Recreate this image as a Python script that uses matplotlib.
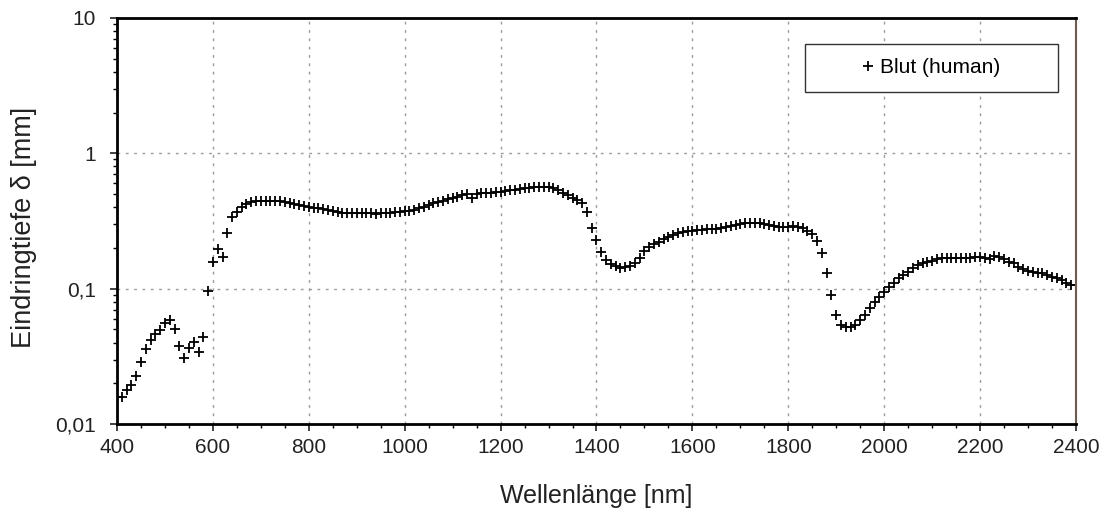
import matplotlib
matplotlib.use("Agg")
import matplotlib.pyplot as plt
from matplotlib.patches import Rectangle
from matplotlib.ticker import FixedLocator, FuncFormatter, LogLocator, MultipleLocator, NullFormatter
import numpy as np

plt.rcParams["font.family"] = ["Liberation Sans", "DejaVu Sans"]

# wavelength grid, 10 nm steps
wavelength = list(range(400, 2401, 10))

# penetration depth in mm (one row per 100 nm)
depth = [
    0.0159, 0.0158, 0.0178, 0.0194, 0.0226, 0.0289, 0.0358, 0.0418, 0.0463, 0.0495,  # 400
    0.0555, 0.0587, 0.0501, 0.0379, 0.0306, 0.0362, 0.0406, 0.0342, 0.0442, 0.0967,  # 500
    0.158, 0.195, 0.172, 0.256, 0.340, 0.371, 0.404, 0.420, 0.435, 0.445,  # 600
    0.447, 0.447, 0.447, 0.443, 0.441, 0.434, 0.430, 0.420, 0.416, 0.409,  # 700
    0.404, 0.397, 0.393, 0.386, 0.382, 0.375, 0.371, 0.365, 0.362, 0.362,  # 800
    0.361, 0.360, 0.360, 0.360, 0.359, 0.360, 0.362, 0.365, 0.368, 0.371,  # 900
    0.375, 0.378, 0.382, 0.393, 0.404, 0.416, 0.428, 0.437, 0.447, 0.456,  # 1000
    0.466, 0.478, 0.493, 0.501, 0.466, 0.501, 0.510, 0.513, 0.513, 0.515,  # 1100
    0.520, 0.530, 0.537, 0.540, 0.545, 0.550, 0.556, 0.561, 0.565, 0.565,  # 1200
    0.561, 0.553, 0.537, 0.513, 0.493, 0.471, 0.452, 0.428, 0.371, 0.279,  # 1300
    0.229, 0.188, 0.163, 0.152, 0.146, 0.143, 0.144, 0.148, 0.156, 0.170,  # 1400
    0.190, 0.204, 0.213, 0.222, 0.231, 0.242, 0.251, 0.259, 0.264, 0.267,  # 1500
    0.268, 0.270, 0.272, 0.274, 0.276, 0.278, 0.282, 0.287, 0.291, 0.296,  # 1600
    0.301, 0.304, 0.307, 0.307, 0.304, 0.301, 0.296, 0.291, 0.287, 0.287,  # 1700
    0.287, 0.291, 0.287, 0.279, 0.268, 0.255, 0.226, 0.183, 0.130, 0.090,  # 1800
    0.064, 0.054, 0.052, 0.052, 0.054, 0.0587, 0.0639, 0.0716, 0.0802, 0.0873,  # 1900
    0.0950, 0.1035, 0.111, 0.119, 0.126, 0.134, 0.142, 0.150, 0.154, 0.158,  # 2000
    0.161, 0.165, 0.168, 0.169, 0.170, 0.170, 0.170, 0.168, 0.168, 0.171,  # 2100
    0.172, 0.168, 0.165, 0.174, 0.171, 0.165, 0.158, 0.154, 0.145, 0.139,  # 2200
    0.136, 0.134, 0.131, 0.130, 0.126, 0.123, 0.119, 0.115, 0.110, 0.106,  # 2300
    0.106,  # 2400
]

y_ticks = [0.01, 0.1, 1, 10]
y_tick_labels = {0.01: "0,01", 0.1: "0,1", 1: "1", 10: "10"}
x_ticks = list(range(400, 2401, 200))

fig = plt.figure(figsize=(11.04, 5.11), dpi=100)
ax = fig.add_axes([0.106, 0.170, 0.8686, 0.795])

ax.plot(wavelength, depth, linestyle="none", marker="+", markersize=7.8,
        markeredgewidth=1.3, color="black", label="Blut (human)")

ax.set_yscale("log")
ax.set_xlim(400, 2400)
ax.set_ylim(0.01, 10)

ax.xaxis.set_major_locator(FixedLocator(x_ticks))
ax.xaxis.set_minor_locator(MultipleLocator(50))
ax.yaxis.set_major_locator(FixedLocator(y_ticks))
ax.yaxis.set_minor_locator(LogLocator(base=10, subs=np.arange(2, 10)))
ax.yaxis.set_major_formatter(FuncFormatter(lambda v, pos: y_tick_labels.get(round(v, 4), "")))
ax.yaxis.set_minor_formatter(NullFormatter())

ax.grid(True, which="major", color="#9a9a9a", linestyle=(0, (2, 4)), linewidth=1.0)

for side in ["left", "bottom", "top"]:
    ax.spines[side].set_linewidth(2.0)
    ax.spines[side].set_color("black")
ax.spines["right"].set_linewidth(1.5)
ax.spines["right"].set_color("#6e5a50")

ax.tick_params(axis="both", which="major", labelsize=15, colors="#222222", length=5, width=1.2,
               direction="out")
ax.tick_params(axis="both", which="minor", length=3, width=1.0, direction="out")
ax.tick_params(axis="x", which="major", pad=5)
ax.tick_params(axis="y", which="major", pad=10)

ax.set_xlabel("Wellenlänge [nm]", fontsize=18, color="#222222")
ax.set_ylabel("Eindringtiefe δ [mm]", fontsize=19.5, color="#222222")
ax.xaxis.set_label_coords(0.5, -0.148)
ax.yaxis.set_label_coords(-0.083, 0.483)

ax.add_patch(Rectangle((0.717, 0.818), 0.264, 0.118, transform=ax.transAxes,
                       facecolor="white", edgecolor="#333333", linewidth=1.0, zorder=4))
ax.legend(loc="center", bbox_to_anchor=(0.849, 0.877), frameon=False, fontsize=15,
          handlelength=0.6, handletextpad=0.3, markerscale=1.0).set_zorder(5)

fig.savefig("out.png", dpi=100)
